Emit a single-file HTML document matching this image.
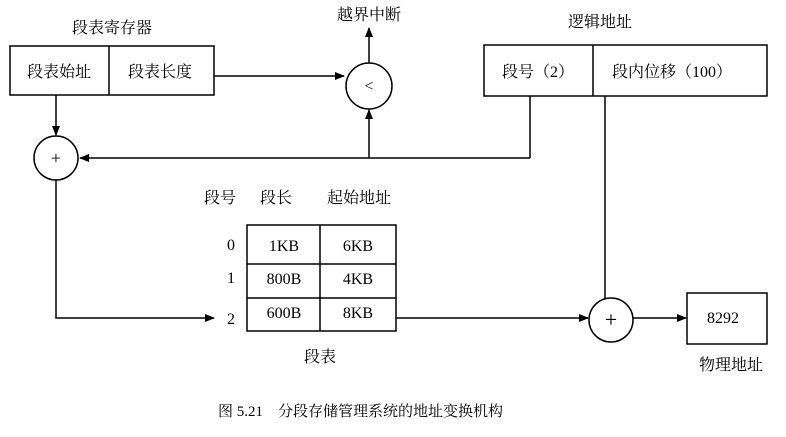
<!DOCTYPE html>
<html><head><meta charset="utf-8"><style>
html,body{margin:0;padding:0;background:#fff;}
svg text{font-family:"Liberation Serif","Noto Serif CJK SC",serif;font-size:16px;fill:#000;}
</style></head><body>
<svg width="786" height="432" viewBox="0 0 786 432" xmlns="http://www.w3.org/2000/svg">
<defs><marker id="a" markerWidth="10" markerHeight="8" refX="9" refY="4" orient="auto" markerUnits="userSpaceOnUse"><path d="M0,0 L10,4 L0,8 Z" fill="#000"/></marker></defs>
<g stroke="#000" stroke-width="1.5" fill="none">
<rect x="10" y="46" width="204" height="49"/>
<line x1="109" y1="46" x2="109" y2="95"/>
<circle cx="369" cy="86" r="23"/>
<rect x="484" y="45" width="283" height="51"/>
<line x1="593" y1="45" x2="593" y2="96"/>
<circle cx="56" cy="158" r="22"/>
<rect x="247" y="225" width="149" height="106"/>
<line x1="320" y1="225" x2="320" y2="331"/>
<line x1="247" y1="264" x2="396" y2="264"/>
<line x1="247" y1="298" x2="396" y2="298"/>
<circle cx="611" cy="320" r="22"/>
<rect x="687" y="293" width="80" height="51"/>
<line x1="214" y1="76" x2="344" y2="76" marker-end="url(#a)"/>
<line x1="369" y1="63" x2="369" y2="28" marker-end="url(#a)"/>
<line x1="530" y1="96" x2="530" y2="158"/>
<line x1="530" y1="158" x2="80" y2="158" marker-end="url(#a)"/>
<line x1="369" y1="158" x2="369" y2="110" marker-end="url(#a)"/>
<line x1="56" y1="95" x2="56" y2="135" marker-end="url(#a)"/>
<polyline points="56,180 56,318 214,318" marker-end="url(#a)"/>
<line x1="396" y1="318" x2="588" y2="318" marker-end="url(#a)"/>
<line x1="605" y1="96" x2="605" y2="298"/>
<line x1="633" y1="318" x2="686" y2="318" marker-end="url(#a)"/>
</g>
<text x="112" y="33" text-anchor="middle">段表寄存器</text>
<text x="59" y="77" text-anchor="middle">段表始址</text>
<text x="160" y="77" text-anchor="middle">段表长度</text>
<text x="369" y="91" text-anchor="middle">&lt;</text>
<text x="369" y="20" text-anchor="middle">越界中断</text>
<text x="600" y="27" text-anchor="middle">逻辑地址</text>
<text x="538" y="77" text-anchor="middle">段号（2）</text>
<text x="672" y="77" text-anchor="middle">段内位移（100）</text>
<text x="56" y="164" text-anchor="middle" style="font-size:18px">+</text>
<text x="220" y="203" text-anchor="middle">段号</text>
<text x="276" y="203" text-anchor="middle">段长</text>
<text x="359" y="203" text-anchor="middle">起始地址</text>
<text x="231" y="250" text-anchor="middle">0</text>
<text x="231" y="283" text-anchor="middle">1</text>
<text x="231" y="324" text-anchor="middle">2</text>
<text x="284" y="251" text-anchor="middle">1KB</text>
<text x="358" y="251" text-anchor="middle">6KB</text>
<text x="284" y="284" text-anchor="middle">800B</text>
<text x="358" y="284" text-anchor="middle">4KB</text>
<text x="284" y="318" text-anchor="middle">600B</text>
<text x="358" y="318" text-anchor="middle">8KB</text>
<text x="320" y="362" text-anchor="middle">段表</text>
<text x="611" y="327" text-anchor="middle" style="font-size:22px">+</text>
<text x="723" y="323" text-anchor="middle">8292</text>
<text x="731" y="370" text-anchor="middle">物理地址</text>
<text x="218" y="416" style="font-size:15px">图 5.21&#160;&#160;&#160;&#160;分段存储管理系统的地址变换机构</text>
</svg>
</body></html>
